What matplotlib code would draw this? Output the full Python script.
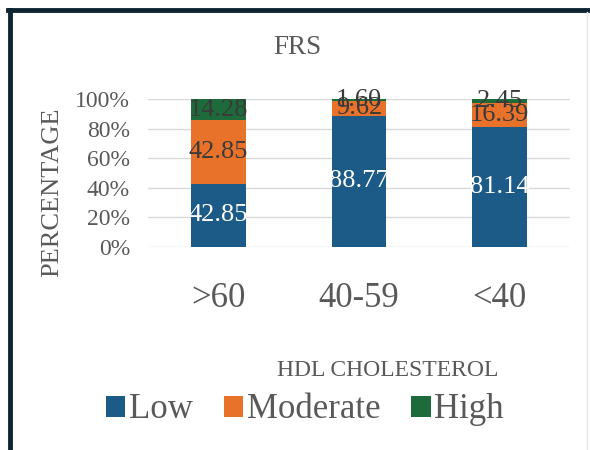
import matplotlib.pyplot as plt
import numpy as np
from matplotlib.lines import Line2D

plt.rcParams['font.family'] = ['Liberation Serif', 'DejaVu Serif']

# data
groups = ['>60', '40-59', '<40']
low = [42.85, 88.77, 81.14]
moderate = [42.85, 9.62, 16.39]
high = [14.28, 1.60, 2.45]

series = [('Low', low, '#1c5b87', 'white'),
          ('Moderate', moderate, '#e9722b', '#3a3a3a'),
          ('High', high, '#1d6b3b', '#3a3a3a')]

grey = '#595959'

fig = plt.figure(figsize=(5.9, 4.5), dpi=100)
ax = fig.add_axes([0.2508, 0.4511, 0.7153, 0.3289])

x = np.arange(len(groups))
totals = np.array(low) + np.array(moderate) + np.array(high)
bottom = np.zeros(len(groups))
for name, vals, color, tcolor in series:
    pct = np.array(vals) / totals * 100
    bars = ax.bar(x, pct, width=0.39, bottom=bottom, color=color, label=name, zorder=2)
    ax.bar_label(bars, labels=['%.2f' % v for v in vals], label_type='center',
                 color=tcolor, fontsize=19, zorder=3)
    bottom += pct

ax.set_xlim(-0.5, 2.5)
ax.set_ylim(0, 100)
ax.set_yticks(np.arange(0, 101, 20))
ax.set_yticklabels(['%d%%' % v for v in range(0, 101, 20)])
ax.set_xticks(x)
ax.set_xticklabels(groups)
ax.yaxis.grid(True, color='#d9d9d9', lw=1, zorder=0)
ax.tick_params(axis='y', length=0, pad=13, labelsize=17, labelcolor=grey)
ax.tick_params(axis='x', length=0, pad=25, labelsize=25, labelcolor=grey)
for s in ax.spines.values():
    s.set_visible(False)

fig.text(297 / 590, 1 - 47 / 450, 'FRS', ha='center', va='center', fontsize=19.5, color=grey)
fig.text(52 / 590, 1 - 192 / 450, 'PERCENTAGE', rotation=90, ha='center', va='center',
         fontsize=19, color=grey)
fig.text(388 / 590, 1 - 371 / 450, 'HDL CHOLESTEROL', ha='center', va='center',
         fontsize=17, color=grey)

fig.legend(loc='center', bbox_to_anchor=(305 / 590, 1 - 410 / 450), ncol=3, frameon=False,
           fontsize=25, labelcolor=grey, handlelength=0.55, handleheight=0.55,
           handletextpad=0.1, columnspacing=0.9)

# outer frame of the cropped figure
fig.add_artist(Line2D([10 / 590, 10 / 590], [0, 1 - 10 / 450], color='#0d2533', lw=3.5,
                      transform=fig.transFigure))
fig.add_artist(Line2D([8 / 590, 1], [1 - 10 / 450, 1 - 10 / 450], color='#0d2533', lw=3.5,
                      transform=fig.transFigure))
fig.add_artist(Line2D([587 / 590, 587 / 590], [0, 1 - 12 / 450], color='#e4e8ec', lw=1,
                      transform=fig.transFigure))

fig.savefig('out.png', dpi=100)
